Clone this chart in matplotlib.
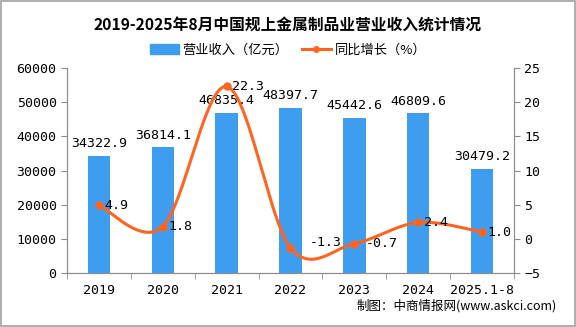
import numpy as np
import matplotlib
matplotlib.use("Agg")
import matplotlib.pyplot as plt
from matplotlib.lines import Line2D
from matplotlib.patches import Patch, Rectangle

plt.rcParams['font.family'] = ['Noto Sans CJK SC', 'DejaVu Sans']

categories = ['2019', '2020', '2021', '2022', '2023', '2024', '2025.1-8']
revenue = [34322.9, 36814.1, 46835.4, 48397.7, 45442.6, 46809.6, 30479.2]
growth = [4.9, 1.8, 22.3, -1.3, -0.7, 2.4, 1.0]
revenue_labels = ['34322.9', '36814.1', '46835.4', '48397.7', '45442.6', '46809.6', '30479.2']
growth_labels = ['4.9', '1.8', '22.3', '-1.3', '-0.7', '2.4', '1.0']

bar_color = '#3F9DEF'
line_color = '#FF6420'
spine_color = '#8C8C8C'

fig = plt.figure(figsize=(5.76, 3.27), dpi=100)
fig.patches.append(Rectangle((0.001, 0.002), 0.997, 0.995, transform=fig.transFigure,
                             fill=False, edgecolor='#A0A0A0', linewidth=1.2))

ax = fig.add_axes([0.1163, 0.165, 0.776, 0.627])
ax2 = ax.twinx()

x = np.arange(len(categories))
ax.bar(x, revenue, width=0.35, color=bar_color, zorder=2)
ax.set_xlim(-0.5, len(categories) - 0.5)
ax.set_ylim(0, 60000)
ax.set_yticks(np.arange(0, 60001, 10000))
ax2.set_ylim(-5, 25)
ax2.set_yticks(np.arange(-5, 26, 5))

# smooth curve (Catmull-Rom style Bezier through data points)
def smooth(xs, ys, n=40):
    xs = np.asarray(xs, float); ys = np.asarray(ys, float)
    px, py = [], []
    for i in range(len(xs) - 1):
        x0, y0 = (xs[i - 1], ys[i - 1]) if i > 0 else (xs[i], ys[i])
        x1, y1 = xs[i], ys[i]
        x2, y2 = xs[i + 1], ys[i + 1]
        x3, y3 = (xs[i + 2], ys[i + 2]) if i + 2 < len(xs) else (xs[i + 1], ys[i + 1])
        c1x, c1y = x1 + (x2 - x0) / 6, y1 + (y2 - y0) / 6
        c2x, c2y = x2 - (x3 - x1) / 6, y2 - (y3 - y1) / 6
        t = np.linspace(0, 1, n)
        bx = (1-t)**3*x1 + 3*(1-t)**2*t*c1x + 3*(1-t)*t**2*c2x + t**3*x2
        by = (1-t)**3*y1 + 3*(1-t)**2*t*c1y + 3*(1-t)*t**2*c2y + t**3*y2
        px.extend(bx); py.extend(by)
    return np.array(px), np.array(py)

sx, sy = smooth(x, growth)
ax2.plot(sx, sy, color=line_color, linewidth=2.2, zorder=3)
ax2.plot(x, growth, 'o', color=line_color, markersize=5, zorder=4)

ax.set_zorder(ax2.get_zorder() - 1)
ax.patch.set_visible(False)

num_font = dict(family=['DejaVu Sans Mono', 'DejaVu Sans'], fontsize=9.5)
for xi, v, lab in zip(x, revenue, revenue_labels):
    ax.annotate(lab, (xi, v), xytext=(0, 4), textcoords='offset points',
                ha='center', va='bottom', zorder=5, **num_font)
for i, (xi, v, lab) in enumerate(zip(x, growth, growth_labels)):
    dx, dy = 4, 0
    if lab == '-1.3':
        dx, dy = 14, 4
    elif lab == '-0.7':
        dx = 8
    ax2.annotate(lab, (xi, v), xytext=(dx, dy), textcoords='offset points',
                 ha='left', va='center', zorder=5, **num_font)

# spines and ticks
for a in (ax, ax2):
    for s in a.spines.values():
        s.set_color(spine_color)
    a.spines['top'].set_visible(False)
ax.tick_params(axis='y', colors=spine_color, labelcolor='black', labelsize=9.5, length=4)
ax2.tick_params(axis='y', colors=spine_color, labelcolor='black', labelsize=9.5, length=4)
ax.set_xticks(x)
ax.set_xticklabels(categories, fontsize=9.5, family=['DejaVu Sans Mono', 'DejaVu Sans'])
ax.tick_params(axis='x', length=0, pad=8)
ax.set_xticks(np.arange(-0.5, len(categories)), minor=True)
ax.tick_params(axis='x', which='minor', length=4, color=spine_color)
for lab in ax.get_yticklabels() + ax2.get_yticklabels():
    lab.set_family(['DejaVu Sans Mono', 'DejaVu Sans'])

fig.text(0.5, 0.925, '2019-2025年8月中国规上金属制品业营业收入统计情况',
         ha='center', va='center', fontsize=11.3, fontweight='bold')

handles = [Patch(color=bar_color),
           Line2D([0], [0], color=line_color, lw=2.2, marker='o', markersize=4)]
fig.legend(handles, ['营业收入（亿元）', '同比增长（%）'], loc='center',
           bbox_to_anchor=(0.5, 0.847), ncol=2, frameon=False, fontsize=9.5,
           handlelength=2.2, handletextpad=0.3, columnspacing=1.0)

fig.text(0.966, 0.064, '制图：中商情报网(www.askci.com)', ha='right', va='center', fontsize=9)

fig.savefig('out.png', dpi=100)
